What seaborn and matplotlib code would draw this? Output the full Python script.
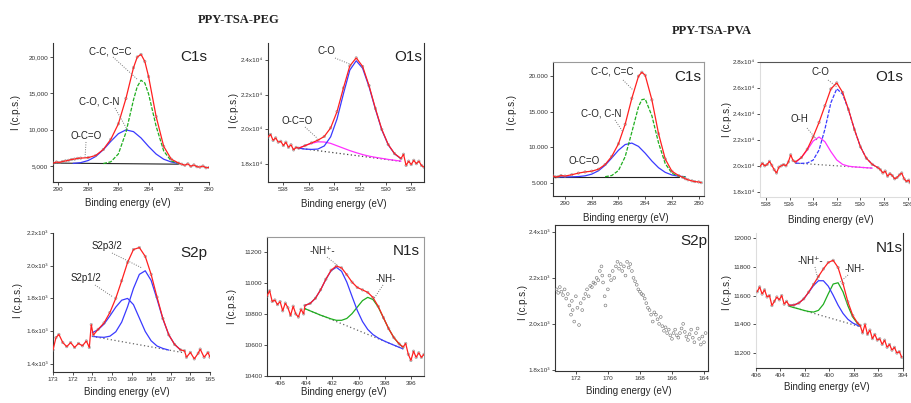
import matplotlib
matplotlib.use("Agg")
import matplotlib.pyplot as plt
import pandas as pd
import seaborn as sns
from matplotlib.lines import Line2D

# ---------------- data ----------------
# PPY-TSA-PEG  C1s
peg_c1s_E = [290.3, 290.1, 289.9, 289.7, 289.5, 289.3, 289.1, 288.9, 288.7, 288.5, 288.0, 287.5, 287.0,
             286.5, 286.0, 285.5, 285.0, 284.75, 284.5, 284.25, 284.0, 283.5, 283.0, 282.5, 282.0,
             281.8, 281.6, 281.4, 281.2, 281.0, 280.8, 280.6, 280.4, 280.2, 280.0]
peg_c1s_I = [5400, 5550, 5480, 5620, 5700, 5780, 5900, 5950, 6050, 6080, 6150, 6450, 7270,
             8670, 10800, 14270, 18510, 19975, 20330, 19370, 17280, 11790, 7700, 5940, 5390,
             5250, 5100, 5300, 4950, 5150, 4900, 4850, 5000, 4750, 4800]
peg_c1s_cc_E = [287.0, 286.5, 286.0, 285.5, 285.0, 284.75, 284.5, 284.25, 284.0, 283.5, 283.0, 282.5, 282.0]
peg_c1s_cc_I = [5335, 5575, 6660, 9610, 14090, 15915, 16780, 16400, 14900, 10450, 7070, 5690, 5360]
peg_c1s_co_E = [289.0, 288.5, 288.0, 287.5, 287.0, 286.5, 286.0, 285.5, 285.0, 284.5, 284.0, 283.5, 283.0, 282.5, 282.0]
peg_c1s_co_I = [5350, 5460, 5750, 6310, 7230, 8390, 9440, 9960, 9720, 8850, 7680, 6640, 5930, 5550, 5330]
peg_c1s_bg_E = [290.3, 282.0]
peg_c1s_bg_I = [5400, 5250]

# PPY-TSA-PEG  O1s
peg_o1s_E = [539.2, 539.0, 538.8, 538.6, 538.4, 538.2, 538.0, 537.8, 537.6, 537.4, 537.2, 537.0, 536.8,
             536.3, 535.8, 535.3, 534.8, 534.3, 533.8, 533.3, 532.8, 532.3, 531.8, 531.3, 530.8, 530.3,
             529.8, 529.3, 528.8, 528.6, 528.4, 528.2, 528.0, 527.8, 527.6, 527.4, 527.2, 527.0]
peg_o1s_I = [19550, 19700, 19350, 19500, 19250, 19300, 19050, 19250, 18950, 19100, 18800, 18950, 18900,
             19050, 19205, 19363, 19580, 20078, 21025, 22393, 23670, 24138, 23640, 22533, 21200, 19988,
             19115, 18583, 18300, 18550, 17900, 18150, 17950, 18200, 18000, 18150, 17900, 17800]
peg_o1s_fit_E = [536.8, 536.3, 535.8, 535.3, 534.8, 534.3, 533.8, 533.3, 532.8, 532.3, 531.8, 531.3,
                 530.8, 530.3, 529.8, 529.3, 528.8]
peg_o1s_co_I = [18900, 18850, 18830, 18850, 19030, 19560, 20600, 22060, 23430, 23970, 23535, 22470,
                21160, 19960, 19100, 18570, 18290]
peg_o1s_oco_I = [18900, 19050, 19180, 19270, 19260, 19180, 19040, 18900, 18760, 18640, 18530, 18440,
                 18370, 18310, 18250, 18200, 18150]
peg_o1s_bg_E = [536.8, 528.7]
peg_o1s_bg_I = [18900, 18130]

# PPY-TSA-PEG  S2p
peg_s2p_E = [173.0, 172.85, 172.7, 172.5, 172.3, 172.1, 171.9, 171.7, 171.5, 171.3, 171.15, 171.05, 170.95,
             170.7, 170.4, 170.1, 169.8, 169.5, 169.2, 168.9, 168.6, 168.3, 168.0, 167.7, 167.4, 167.1,
             166.8, 166.5, 166.3, 166.2, 166.0, 165.8, 165.6, 165.5, 165.3, 165.1, 165.0]
peg_s2p_I = [1485, 1560, 1580, 1530, 1505, 1530, 1500, 1525, 1510, 1540, 1500, 1640, 1575,
             1611, 1650, 1714, 1801, 1908, 2020, 2099, 2111, 2057, 1947, 1808, 1677, 1577,
             1518, 1485, 1480, 1440, 1470, 1430, 1465, 1490, 1440, 1470, 1440]
peg_s2p_half_E = [171.0, 170.7, 170.4, 170.1, 169.8, 169.5, 169.2, 168.9, 168.6, 168.3, 168.0, 167.7, 167.4, 167.1]
peg_s2p_half_I = [1590, 1609, 1643, 1693, 1747, 1789, 1800, 1762, 1680, 1598, 1541, 1509, 1494, 1484]
peg_s2p_32_E = [171.0, 170.7, 170.4, 170.1, 169.8, 169.5, 169.2, 168.9, 168.6, 168.3, 168.0, 167.7,
                167.4, 167.1, 166.8, 166.5]
peg_s2p_32_I = [1568, 1564, 1562, 1569, 1596, 1655, 1749, 1861, 1947, 1969, 1910, 1796, 1674, 1577, 1518, 1485]
peg_s2p_bg_E = [171.0, 166.3]
peg_s2p_bg_I = [1568, 1467]

# PPY-TSA-PEG  N1s
peg_n1s_E = [407.0, 406.8, 406.6, 406.4, 406.2, 406.0, 405.8, 405.6, 405.4, 405.2, 405.0, 404.8, 404.6,
             404.4, 404.2, 404.1, 403.7, 403.3, 402.9, 402.5, 402.1, 401.7, 401.3, 400.9, 400.5, 400.1,
             399.7, 399.3, 398.9, 398.5, 398.1, 397.7, 397.3, 396.9, 396.6, 396.4, 396.2, 396.0, 395.8,
             395.6, 395.4, 395.2, 395.0]
peg_n1s_I = [10915, 10950, 10880, 10890, 10860, 10880, 10820, 10870, 10840, 10790, 10850, 10800, 10780,
             10830, 10800, 10855, 10868, 10901, 10956, 11024, 11082, 11109, 11097, 11053, 11005, 10971,
             10955, 10939, 10906, 10849, 10776, 10705, 10647, 10607, 10586, 10610, 10540, 10500, 10560,
             10520, 10550, 10520, 10540]
peg_n1s_fit_E = [404.1, 403.7, 403.3, 402.9, 402.5, 402.1, 401.7, 401.3, 400.9, 400.5, 400.1, 399.7,
                 399.3, 398.9, 398.5, 398.1, 397.7, 397.3, 396.9, 396.6]
peg_n1s_nhp_I = [10855, 10868, 10901, 10956, 11023, 11079, 11101, 11075, 11005, 10913, 10823, 10751,
                 10700, 10667, 10645, 10628, 10613, 10599, 10585, 10575]
peg_n1s_nh_I = [10834, 10820, 10806, 10792, 10780, 10768, 10759, 10759, 10771, 10802, 10844, 10886,
                10907, 10893, 10845, 10775, 10705, 10647, 10607, 10586]
peg_n1s_bg_E = [404.1, 396.6]
peg_n1s_bg_I = [10834, 10575]

# PPY-TSA-PVA  C1s
pva_c1s_E = [290.9, 290.7, 290.5, 290.3, 290.0, 289.5, 289.0, 288.5, 288.0, 287.5, 287.0, 286.5, 286.0,
             285.5, 285.0, 284.5, 284.25, 284.0, 283.5, 283.0, 282.5, 282.0, 281.5, 281.2, 281.0, 280.8,
             280.5, 280.3, 280.0, 279.8]
pva_c1s_I = [5980, 5850, 5900, 6050, 5973, 6158, 6388, 6552, 6660, 6930, 7593, 8738, 10498,
             13228, 16877, 19974, 20525, 20100, 16651, 11903, 8363, 6643, 6052, 5800, 5600, 5450,
             5300, 5200, 5150, 5050]
pva_c1s_cc_E = [287.0, 286.5, 286.0, 285.5, 285.0, 284.5, 284.25, 284.0, 283.5, 283.0, 282.5, 282.0, 281.5, 281.0]
pva_c1s_cc_I = [5883, 6054, 6752, 8688, 12131, 15695, 16680, 16773, 14419, 10613, 7720, 6367, 5949, 5850]
pva_c1s_co_E = [290.5, 290.0, 289.5, 289.0, 288.5, 288.0, 287.5, 287.0, 286.5, 286.0, 285.5, 285.0,
                284.5, 284.0, 283.5, 283.0, 282.5, 282.0, 281.5, 281.0]
pva_c1s_co_I = [5850, 5854, 5866, 5903, 6006, 6245, 6716, 7486, 8516, 9596, 10390, 10596,
                10129, 9177, 8082, 7140, 6493, 6126, 5953, 5883]
pva_c1s_bg_E = [290.9, 281.5]
pva_c1s_bg_I = [5850, 5850]

# PPY-TSA-PVA  O1s
pva_o1s_E = [538.5, 538.3, 538.1, 537.9, 537.7, 537.5, 537.3, 537.1, 536.9, 536.7, 536.5, 536.3, 536.1,
             535.9, 535.7, 535.5, 535.0, 534.5, 534.0, 533.5, 533.0, 532.5, 532.0, 531.5, 531.0, 530.5,
             530.0, 529.5, 529.0, 528.5, 528.3, 528.1, 527.9, 527.7, 527.5, 527.3, 527.1, 526.9, 526.7,
             526.5, 526.3, 526.1, 525.9, 525.8]
pva_o1s_I = [19950, 20200, 20000, 20100, 20350, 20050, 19700, 19450, 19900, 20000, 20100, 20000, 20300,
             20850, 20400, 20300, 20639, 21283, 22237, 23351, 24629, 25924, 26390, 25653, 24321, 22787,
             21474, 20593, 20118, 19850, 19700, 19450, 19600, 19200, 19400, 19250, 19000, 19100, 19300,
             19450, 19000, 18800, 18900, 18700]
pva_o1s_co_E = [535.5, 535.0, 534.5, 534.0, 533.5, 533.0, 532.5, 532.0, 531.5, 531.0, 530.5, 530.0, 529.5, 529.0, 528.5]
pva_o1s_co_I = [20210, 20190, 20217, 20445, 21221, 22837, 24858, 25941, 25519, 24293, 22783, 21474, 20593, 20118, 19850]
pva_o1s_oh_E = [535.5, 535.0, 534.5, 534.0, 533.5, 533.0, 532.5, 532.0, 531.5, 531.0, 530.5, 530.0, 529.5, 529.0]
pva_o1s_oh_I = [20250, 20629, 21217, 21913, 22222, 21854, 21098, 20452, 20108, 19972, 19919, 19885, 19855, 19826]
pva_o1s_bg_E = [535.5, 528.9]
pva_o1s_bg_I = [20210, 19820]

# PPY-TSA-PVA  S2p (raw points only)
pva_s2p_E = [173.2, 173.1, 173.0, 172.9, 172.8, 172.7, 172.6, 172.5, 172.4, 172.3, 172.25, 172.2, 172.1,
             172.0, 171.9, 171.8, 171.7, 171.6, 171.5, 171.4, 171.3, 171.2, 171.1, 171.0, 170.9, 170.8,
             170.7, 170.6, 170.5, 170.4, 170.35, 170.3, 170.2, 170.15, 170.0, 169.9, 169.8, 169.7, 169.6,
             169.5, 169.4, 169.3, 169.2, 169.1, 169.0, 168.9, 168.8, 168.7, 168.6, 168.5, 168.4, 168.3,
             168.2, 168.1, 168.0, 167.9, 167.8, 167.7, 167.6, 167.5, 167.4, 167.3, 167.2, 167.1, 167.0,
             166.9, 166.8, 166.7, 166.6, 166.5, 166.4, 166.3, 166.2, 166.1, 166.0, 165.9, 165.8, 165.7,
             165.6, 165.5, 165.4, 165.3, 165.2, 165.1, 165.0, 164.9, 164.8, 164.7, 164.6, 164.5, 164.4,
             164.3, 164.2, 164.1, 164.0, 163.9]
pva_s2p_I = [2150, 2135, 2160, 2140, 2125, 2150, 2110, 2130, 2080, 2040, 2100, 2060, 2010,
             2120, 2070, 1995, 2090, 2060, 2110, 2130, 2150, 2120, 2165, 2160, 2180, 2175,
             2200, 2190, 2230, 2250, 2210, 2180, 2120, 2080, 2150, 2210, 2190, 2230, 2200,
             2250, 2270, 2240, 2260, 2230, 2250, 2210, 2270, 2245, 2260, 2230, 2200, 2185,
             2170, 2150, 2140, 2130, 2125, 2110, 2090, 2070, 2060, 2040, 2010, 2050, 2040,
             2020, 2000, 2030, 1990, 1970, 1985, 1960, 1975, 1950, 1935, 1960, 1975, 1950,
             1940, 1960, 1980, 2000, 1965, 1945, 1930, 1955, 1975, 1940, 1920, 1960, 1980,
             1935, 1910, 1945, 1920, 1960]

# PPY-TSA-PVA  N1s
pva_n1s_E = [405.9, 405.7, 405.5, 405.3, 405.1, 404.9, 404.7, 404.5, 404.3, 404.1, 403.9, 403.7, 403.5,
             403.3, 402.9, 402.5, 402.1, 401.7, 401.3, 400.9, 400.5, 400.1, 399.7, 399.3, 398.9, 398.5,
             398.1, 397.7, 397.5, 397.3, 397.1, 396.9, 396.7, 396.5, 396.3, 396.1, 395.9, 395.7, 395.5,
             395.3, 395.1, 394.9, 394.7, 394.5, 394.3, 394.1]
pva_n1s_I = [11626, 11660, 11610, 11640, 11590, 11600, 11530, 11560, 11590, 11570, 11600, 11540, 11560,
             11532, 11534, 11548, 11577, 11624, 11678, 11733, 11785, 11830, 11845, 11795, 11684, 11556,
             11461, 11408, 11393, 11340, 11400, 11330, 11360, 11300, 11330, 11290, 11300, 11260, 11290,
             11240, 11260, 11220, 11240, 11200, 11210, 11170]
pva_n1s_fit_E = [403.3, 402.9, 402.5, 402.1, 401.7, 401.3, 400.9, 400.5, 400.1, 399.7, 399.3, 398.9,
                 398.5, 398.1, 397.7, 397.5]
pva_n1s_nhp_I = [11532, 11534, 11548, 11577, 11622, 11670, 11703, 11703, 11665, 11602, 11533, 11476,
                 11435, 11409, 11392, 11385]
pva_n1s_nh_I = [11526, 11516, 11507, 11497, 11489, 11485, 11497, 11539, 11612, 11680, 11689, 11626,
                11529, 11450, 11404, 11391]
pva_n1s_bg_E = [403.3, 397.5]
pva_n1s_bg_I = [11526, 11383]

# ---------------- style ----------------
sns.set_theme(style="white")
plt.rcParams['font.family'] = ['Liberation Sans', 'DejaVu Sans']
RED, GREEN, BLUE, MAG = '#ff2020', '#1fae1f', '#3a3aff', '#ff30ff'
PTS = '#8c8c8c'
W, H = 912, 403
fig = plt.figure(figsize=(W / 100, H / 100), dpi=100)
fig.patch.set_facecolor('white')


def rect(l, t, r, b):
    return [l / W, 1 - b / H, (r - l) / W, (b - t) / H]


def line(ax, E, I, color, ls='-', lw=0.9, z=2):
    df = pd.DataFrame({'E': E, 'I': I})
    sns.lineplot(data=df, x='E', y='I', ax=ax, color=color, linestyle=ls, linewidth=lw,
                 estimator=None, sort=False, legend=False, zorder=z)


def points(ax, E, I, s=3, color=PTS, lw=0.4):
    sns.scatterplot(x=E, y=I, ax=ax, marker='o', s=s, color=color, facecolors='none',
                    edgecolor=color, linewidth=lw, legend=False, zorder=3)


def finish(ax, xlim, xticks, ylim, yticks, ylabels, spines, ylab_px, xlab_px):
    ax.set_xlim(*xlim)
    ax.set_ylim(*ylim)
    ax.set_xticks(xticks)
    ax.set_xticklabels([str(t) for t in xticks])
    ax.set_yticks(yticks)
    ax.set_yticklabels(ylabels)
    ax.tick_params(direction='out', length=2, width=0.6, labelsize=4.6, pad=1.5,
                   colors='#333333', bottom=True, left=True)
    for side in ['left', 'bottom', 'top', 'right']:
        ax.spines[side].set_visible(side in spines)
        ax.spines[side].set_linewidth(0.8)
        ax.spines[side].set_color(spines.get(side, '#333333'))
    ax.set_facecolor('white')
    ax.set_ylabel('I (c.p.s.)', fontsize=7)
    ax.yaxis.set_label_coords(ylab_px[0] / W, 1 - ylab_px[1] / H, transform=fig.transFigure)
    ax.yaxis.label.set_va('center')
    ax.set_xlabel('Binding energy (eV)', fontsize=7)
    ax.xaxis.set_label_coords(xlab_px[0] / W, 1 - xlab_px[1] / H, transform=fig.transFigure)
    ax.xaxis.label.set_va('center')


def ftext(px, py, s, size=7, **kw):
    fig.text(px / W, 1 - py / H, s, ha='center', va='center', fontsize=size, color='#222222', **kw)


def leader(x0, y0, x1, y1):
    fig.add_artist(Line2D([x0 / W, x1 / W], [1 - y0 / H, 1 - y1 / H], transform=fig.transFigure,
                          color='#777777', lw=0.7, ls=(0, (1, 1.5))))


DK, LT = '#333333', '#9a9a9a'

# ---- PEG C1s ----
ax = fig.add_axes(rect(53, 43, 209, 182))
line(ax, peg_c1s_bg_E, peg_c1s_bg_I, '#222222', lw=0.8)
line(ax, peg_c1s_co_E, peg_c1s_co_I, BLUE)
line(ax, peg_c1s_cc_E, peg_c1s_cc_I, GREEN, ls=(0, (3, 1.2)))
line(ax, peg_c1s_E, peg_c1s_I, RED, z=4)
points(ax, peg_c1s_E, peg_c1s_I)
finish(ax, (290.33, 280), [290, 288, 286, 284, 282, 280], (2800, 21900),
       [5000, 10000, 15000, 20000], ['5,000', '10,000', '15,000', '20,000'],
       {'left': DK, 'bottom': DK}, (16, 112), (128, 203))

# ---- PEG O1s ----
ax = fig.add_axes(rect(268, 43, 424, 182))
line(ax, peg_o1s_bg_E, peg_o1s_bg_I, '#444444', ls=(0, (1, 2)), lw=0.9)
line(ax, peg_o1s_fit_E, peg_o1s_oco_I, MAG)
line(ax, peg_o1s_fit_E, peg_o1s_co_I, BLUE)
line(ax, peg_o1s_E, peg_o1s_I, RED, z=4)
points(ax, peg_o1s_E, peg_o1s_I)
finish(ax, (539.2, 527), [538, 536, 534, 532, 530, 528], (16940, 25000),
       [18000, 20000, 22000, 24000], ['1.8x10⁴', '2.0x10⁴', '2.2x10⁴', '2.4x10⁴'],
       {'left': DK, 'bottom': DK, 'right': DK}, (234, 110), (344, 204))

# ---- PEG S2p ----
ax = fig.add_axes(rect(53, 233, 210, 372))
line(ax, peg_s2p_bg_E, peg_s2p_bg_I, '#666666', ls=(0, (1, 2)), lw=0.9)
line(ax, peg_s2p_half_E, peg_s2p_half_I, BLUE)
line(ax, peg_s2p_32_E, peg_s2p_32_I, BLUE)
line(ax, peg_s2p_E, peg_s2p_I, RED, z=4)
points(ax, peg_s2p_E, peg_s2p_I)
finish(ax, (173, 165), [173, 172, 171, 170, 169, 168, 167, 166, 165], (1350, 2200),
       [1400, 1600, 1800, 2000, 2200], ['1.4x10³', '1.6x10³', '1.8x10³', '2.0x10³', '2.2x10³'],
       {'left': DK, 'bottom': DK}, (18, 300), (127, 392))

# ---- PEG N1s ----
ax = fig.add_axes(rect(267, 237, 424, 376))
line(ax, peg_n1s_bg_E, peg_n1s_bg_I, '#666666', ls=(0, (1, 2)), lw=0.9)
line(ax, peg_n1s_fit_E, peg_n1s_nh_I, GREEN)
line(ax, peg_n1s_fit_E, peg_n1s_nhp_I, BLUE)
line(ax, peg_n1s_E, peg_n1s_I, RED, z=4)
points(ax, peg_n1s_E, peg_n1s_I)
finish(ax, (407, 395), [406, 404, 402, 400, 398, 396], (10400, 11296),
       [10400, 10600, 10800, 11000, 11200], ['10400', '10600', '10800', '11000', '11200'],
       {'left': DK, 'bottom': DK, 'top': LT, 'right': LT}, (232, 307), (344, 392))

# ---- PVA C1s ----
ax = fig.add_axes(rect(553, 62, 704, 196))
line(ax, pva_c1s_bg_E, pva_c1s_bg_I, '#222222', lw=0.8)
line(ax, pva_c1s_co_E, pva_c1s_co_I, BLUE)
line(ax, pva_c1s_cc_E, pva_c1s_cc_I, GREEN, ls=(0, (3, 1.2)))
line(ax, pva_c1s_E, pva_c1s_I, RED, z=4)
points(ax, pva_c1s_E, pva_c1s_I)
finish(ax, (290.9, 279.6), [290, 288, 286, 284, 282, 280], (3180, 21960),
       [5000, 10000, 15000, 20000], ['5.000', '10.000', '15.000', '20.000'],
       {'left': DK, 'bottom': DK, 'top': LT, 'right': LT}, (512, 112), (626, 218))

# ---- PVA O1s ----
ax = fig.add_axes(rect(760, 62, 910, 197))
line(ax, pva_o1s_bg_E, pva_o1s_bg_I, '#666666', ls=(0, (1, 2)), lw=0.9)
line(ax, pva_o1s_oh_E, pva_o1s_oh_I, MAG)
line(ax, pva_o1s_co_E, pva_o1s_co_I, BLUE, ls=(0, (3, 1.2)))
line(ax, pva_o1s_E, pva_o1s_I, RED, z=4)
points(ax, pva_o1s_E, pva_o1s_I)
finish(ax, (538.5, 525.8), [538, 536, 534, 532, 530, 528, 526], (17600, 28000),
       [18000, 20000, 22000, 24000, 26000, 28000],
       ['1.8x10⁴', '2.0x10⁴', '2.2x10⁴', '2.4x10⁴', '2.6x10⁴', '2.8x10⁴'],
       {'top': '#555555', 'left': '#dddddd', 'bottom': '#dddddd'}, (727, 120), (831, 220))

# ---- PVA S2p ----
ax = fig.add_axes(rect(555, 225, 708, 371))
points(ax, pva_s2p_E, pva_s2p_I, s=4, color='#7a7a7a', lw=0.45)
finish(ax, (173.3, 163.75), [172, 170, 168, 166, 164], (1795, 2430),
       [1800, 2000, 2200, 2400], ['1.8x10³', '2.0x10³', '2.2x10³', '2.4x10³'],
       {'left': DK, 'bottom': DK, 'top': DK, 'right': DK}, (523, 303), (629, 391))

# ---- PVA N1s ----
ax = fig.add_axes(rect(756, 233, 903, 368))
line(ax, pva_n1s_bg_E, pva_n1s_bg_I, '#666666', ls=(0, (1, 2)), lw=0.9)
line(ax, pva_n1s_fit_E, pva_n1s_nh_I, GREEN)
line(ax, pva_n1s_fit_E, pva_n1s_nhp_I, BLUE)
line(ax, pva_n1s_E, pva_n1s_I, RED, z=4)
points(ax, pva_n1s_E, pva_n1s_I)
finish(ax, (406, 394), [406, 404, 402, 400, 398, 396, 394], (11096, 12035),
       [11200, 11400, 11600, 11800, 12000], ['11200', '11400', '11600', '11800', '12000'],
       {'left': '#dddddd', 'bottom': DK, 'right': DK}, (727, 292), (827, 387))

# ---------------- text annotations ----------------
title_font = dict(family=['Liberation Serif', 'DejaVu Serif'], fontweight='bold')
ftext(239, 20, 'PPY-TSA-PEG', size=9, **title_font)
ftext(712, 31, 'PPY-TSA-PVA', size=9, **title_font)

# panel tags
for (x, y, s) in [(194, 57, 'C1s'), (408, 57, 'O1s'), (194, 253, 'S2p'), (406, 251, 'N1s'),
                  (688, 77, 'C1s'), (889, 77, 'O1s'), (694, 241, 'S2p'), (889, 248, 'N1s')]:
    ftext(x, y, s, size=11)

# peak labels and leaders
ftext(110, 51, 'C-C, C=C'); leader(113, 57, 138, 80)
ftext(99, 102, 'C-O, C-N'); leader(115, 108, 128, 131)
ftext(86, 136, 'O-C=O'); leader(86, 142, 85, 158)
ftext(326, 51, 'C-O'); leader(335, 58, 352, 65)
ftext(297, 121, 'O-C=O'); leader(305, 127, 317, 138)
ftext(107, 246, 'S2p3/2'); leader(112, 253, 142, 268)
ftext(86, 278, 'S2p1/2'); leader(95, 285, 113, 297)
ftext(322, 251, '-NH⁺-'); leader(327, 257, 337, 265)
ftext(386, 279, '-NH-'); leader(383, 285, 373, 300)
ftext(612, 72, 'C-C, C=C'); leader(623, 80, 633, 90)
ftext(601, 113, 'C-O, C-N'); leader(615, 120, 623, 132)
ftext(584, 161, 'O-C=O')
ftext(820, 72, 'C-O'); leader(828, 80, 837, 87)
ftext(799, 119, 'O-H'); leader(807, 128, 817, 140)
ftext(810, 261, '-NH⁺-'); leader(815, 267, 818, 280)
ftext(855, 269, '-NH-'); leader(848, 275, 840, 282)

fig.savefig('out.png', dpi=100, facecolor='white')
